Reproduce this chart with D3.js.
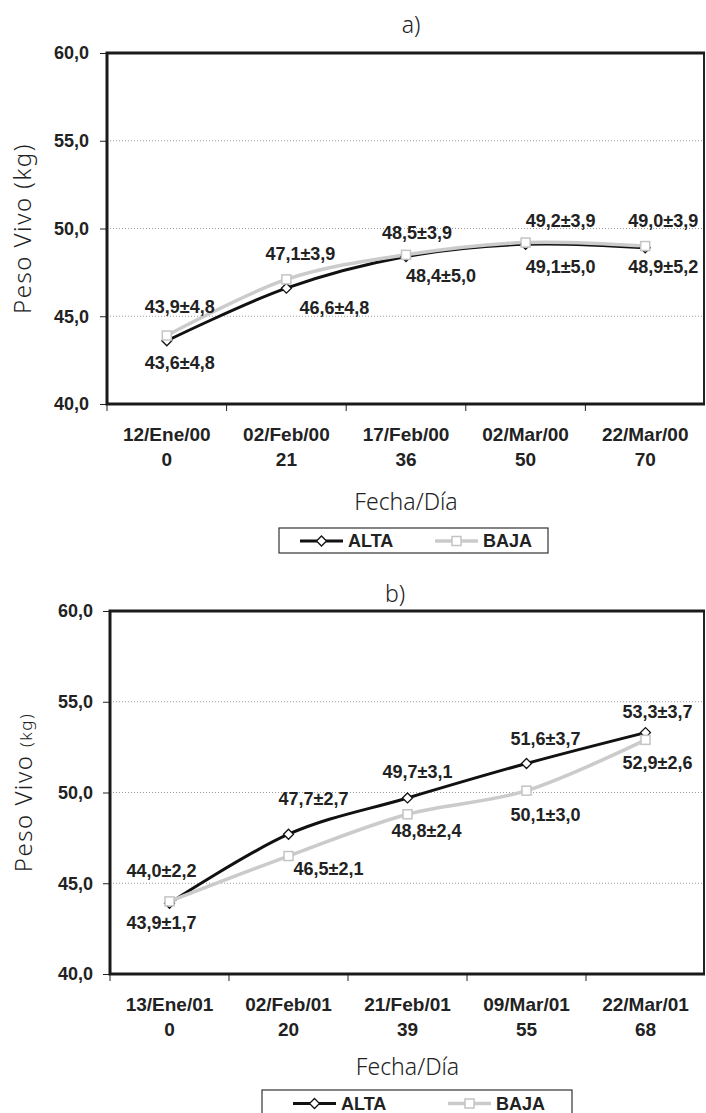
<!DOCTYPE html>
<html>
<head>
<meta charset="utf-8">
<script src="https://cdn.jsdelivr.net/npm/d3@7"></script>
<style>
  body { margin: 0; background: #fff; }
  svg { display: block; }
  .b { font-family: Arial, "Liberation Sans", Helvetica, sans-serif; font-weight: bold; }
</style>
</head>
<body>
<script>
const W = 706, H = 1113;

// panel a) 2000
const datesA = ["12/Ene/00", "02/Feb/00", "17/Feb/00", "02/Mar/00", "22/Mar/00"];
const daysA = [0, 21, 36, 50, 70];
const altaA = [43.6, 46.6, 48.4, 49.1, 48.9];
const altaSdA = [4.8, 4.8, 5.0, 5.0, 5.2];
const bajaA = [43.9, 47.1, 48.5, 49.2, 49.0];
const bajaSdA = [4.8, 3.9, 3.9, 3.9, 3.9];

// panel b) 2001
const datesB = ["13/Ene/01", "02/Feb/01", "21/Feb/01", "09/Mar/01", "22/Mar/01"];
const daysB = [0, 20, 39, 55, 68];
const altaB = [43.9, 47.7, 49.7, 51.6, 53.3];
const altaSdB = [1.7, 2.7, 3.1, 3.7, 3.7];
const bajaB = [44.0, 46.5, 48.8, 50.1, 52.9];
const bajaSdB = [2.2, 2.1, 2.4, 3.0, 2.6];

const yTicks = [40, 45, 50, 55, 60];

const loc = d3.formatLocale({decimal: ",", thousands: ".", grouping: [3], currency: ["", ""]});
const f1 = loc.format(".1f");

const svg = d3.select("body").append("svg").attr("width", W).attr("height", H);
svg.append("rect").attr("width", W).attr("height", H).attr("fill", "#fff");

const diamond = "M0,-5L5,0L0,5L-5,0Z";

function drawPanel(p) {
    const g = svg.append("g");

    const x = d3.scaleBand().domain(p.dates).range([p.left, p.right]);
    const y = d3.scaleLinear().domain([40, 60]).range([p.bottom, p.top]);
    const cx = d => x(d) + x.bandwidth() / 2;

    // title
    g.append("text")
        .attr("x", p.titleX).attr("y", p.titleY)
        .attr("text-anchor", "middle")
        .attr("font-family", "Noto Sans").attr("font-size", "23px")
        .attr("font-weight", 300).attr("fill", "#222")
        .text(p.title);

    // gridlines
    g.selectAll("line.grid")
        .data(yTicks.filter(t => t > 40 && t < 60))
        .enter().append("line")
        .attr("x1", p.left).attr("x2", p.right)
        .attr("y1", d => y(d)).attr("y2", d => y(d))
        .attr("stroke", "#999").attr("stroke-width", 1)
        .attr("stroke-dasharray", "1,2");

    // y axis
    const yAxis = g.append("g")
        .attr("transform", `translate(${p.left},0)`)
        .call(d3.axisLeft(y).tickValues(yTicks).tickFormat(f1).tickSize(7).tickPadding(p.yPad));
    yAxis.select(".domain").remove();
    yAxis.selectAll(".tick line").attr("stroke", "#222").attr("stroke-width", 1);
    yAxis.attr("font-family", null).attr("font-size", null);
    yAxis.selectAll("text")
        .attr("class", "b").attr("font-size", "18px").attr("fill", "#222");

    // x ticks at band boundaries
    const bounds = p.dates.map(d => x(d));
    g.selectAll("line.xt")
        .data(bounds)
        .enter().append("line")
        .attr("x1", d => d).attr("x2", d => d)
        .attr("y1", p.bottom).attr("y2", p.bottom + 7)
        .attr("stroke", "#222").attr("stroke-width", 1);

    // x labels (two lines)
    const xl = g.selectAll("text.xl")
        .data(p.dates)
        .enter().append("text")
        .attr("class", "b")
        .attr("text-anchor", "middle")
        .attr("font-size", "19px").attr("fill", "#222");
    xl.append("tspan").attr("x", cx).attr("y", p.bottom + 37).text(d => d);
    xl.append("tspan").attr("x", cx).attr("y", p.bottom + 62).text((d, i) => p.days[i]);

    // plot frame
    g.append("line").attr("x1", p.right - 1).attr("x2", p.right - 1)
        .attr("y1", p.top).attr("y2", p.bottom).attr("stroke", "#222").attr("stroke-width", 2);
    g.append("path")
        .attr("d", `M${p.right},${p.top}H${p.left}V${p.bottom}H${p.right}`)
        .attr("fill", "none").attr("stroke", "#1a1a1a").attr("stroke-width", 3);

    // axis titles
    const yt = g.append("text")
        .attr("transform", `translate(${p.yTitleX},${(p.top + p.bottom) / 2}) rotate(-90)`)
        .attr("text-anchor", "middle")
        .attr("font-family", "Noto Sans").attr("font-size", "24px").attr("font-weight", 300)
        .attr("letter-spacing", "1.5px").attr("fill", "#222");
    yt.append("tspan").text("Peso Vivo ");
    yt.append("tspan").attr("font-size", p.kgSize).text("(kg)");

    g.append("text")
        .attr("x", (p.left + p.right) / 2).attr("y", p.fechaY)
        .attr("text-anchor", "middle")
        .attr("font-family", "Noto Sans").attr("font-size", "23px").attr("font-weight", 300)
        .attr("fill", "#222")
        .text("Fecha/Día");

    // series
    const line = d3.line().curve(d3.curveCardinal.tension(0))
        .x(d => cx(d.date)).y(d => y(d.v));
    const alta = p.dates.map((d, i) => ({date: d, v: p.alta[i], sd: p.altaSd[i], off: p.altaOff[i]}));
    const baja = p.dates.map((d, i) => ({date: d, v: p.baja[i], sd: p.bajaSd[i], off: p.bajaOff[i]}));

    g.append("path").datum(alta).attr("d", line)
        .attr("fill", "none").attr("stroke", "#111").attr("stroke-width", 3);
    g.append("path").datum(baja).attr("d", line)
        .attr("fill", "none").attr("stroke", "#cbcbcb").attr("stroke-width", 3.5);

    g.selectAll("path.da").data(alta).enter().append("path")
        .attr("d", diamond)
        .attr("transform", d => `translate(${cx(d.date)},${y(d.v)})`)
        .attr("fill", "#fff").attr("stroke", "#111").attr("stroke-width", 1.3);
    g.selectAll("rect.sq").data(baja).enter().append("rect")
        .attr("x", d => cx(d.date) - 4.5).attr("y", d => y(d.v) - 4.5)
        .attr("width", 9).attr("height", 9)
        .attr("fill", "#fff").attr("stroke", "#c4c4c4").attr("stroke-width", 1.5);

    // data labels
    g.selectAll("text.lab").data(alta.concat(baja)).enter().append("text")
        .attr("class", "b")
        .attr("x", d => cx(d.date) + d.off[0])
        .attr("y", d => y(d.v) + d.off[1])
        .attr("dy", "0.36em")
        .attr("text-anchor", "middle")
        .attr("font-size", "18px").attr("fill", "#222")
        .text(d => f1(d.v) + "±" + f1(d.sd));

    // legend
    const L = p.legend;
    g.append("rect")
        .attr("x", L.x).attr("y", L.y).attr("width", L.w).attr("height", L.h)
        .attr("fill", "#fff").attr("stroke", "#333").attr("stroke-width", 1.2);
    const ly = L.y + L.h / 2 + 0.5;
    g.append("line").attr("x1", L.a1).attr("x2", L.a1 + 43).attr("y1", ly).attr("y2", ly)
        .attr("stroke", "#111").attr("stroke-width", 3);
    g.append("path").attr("d", diamond).attr("transform", `translate(${L.a1 + 21.5},${ly})`)
        .attr("fill", "#fff").attr("stroke", "#111").attr("stroke-width", 1.3);
    g.append("line").attr("x1", L.b1).attr("x2", L.b1 + 43).attr("y1", ly).attr("y2", ly)
        .attr("stroke", "#cbcbcb").attr("stroke-width", 3.5);
    g.append("rect").attr("x", L.b1 + 17).attr("y", ly - 4.5).attr("width", 9).attr("height", 9)
        .attr("fill", "#fff").attr("stroke", "#c4c4c4").attr("stroke-width", 1.5);
    g.selectAll("text.leg").data([["ALTA", L.a1 + 48], ["BAJA", L.b1 + 48]]).enter().append("text")
        .attr("class", "b")
        .attr("x", d => d[1]).attr("y", ly).attr("dy", "0.36em")
        .attr("font-size", "18px").attr("fill", "#222")
        .text(d => d[0]);
}

drawPanel({
    title: "a)", titleX: 411, titleY: 33,
    dates: datesA, days: daysA,
    alta: altaA, altaSd: altaSdA, baja: bajaA, bajaSd: bajaSdA,
    altaOff: [[13, 22], [48, 19], [35, 19], [35, 22], [18, 19]],
    bajaOff: [[13, -29], [14, -26], [11, -22], [35, -22], [18, -26]],
    left: 107, right: 705, top: 53, bottom: 404, yPad: 11,
    yTitleX: 31, kgSize: "24px", fechaY: 510,
    legend: {x: 279, y: 528, w: 269, h: 25, a1: 300, b1: 435}
});

drawPanel({
    title: "b)", titleX: 395, titleY: 602,
    dates: datesB, days: daysB,
    alta: altaB, altaSd: altaSdB, baja: bajaB, bajaSd: bajaSdB,
    altaOff: [[-8, 19], [25, -36], [10, -26], [19, -25], [12, -21]],
    bajaOff: [[-8, -31], [40, 12], [19, 16], [19, 24], [12, 23]],
    left: 110, right: 705, top: 611, bottom: 974, yPad: 10,
    yTitleX: 32, kgSize: "17px", fechaY: 1075,
    legend: {x: 262, y: 1090, w: 310, h: 26, a1: 293, b1: 448}
});
</script>
</body>
</html>
